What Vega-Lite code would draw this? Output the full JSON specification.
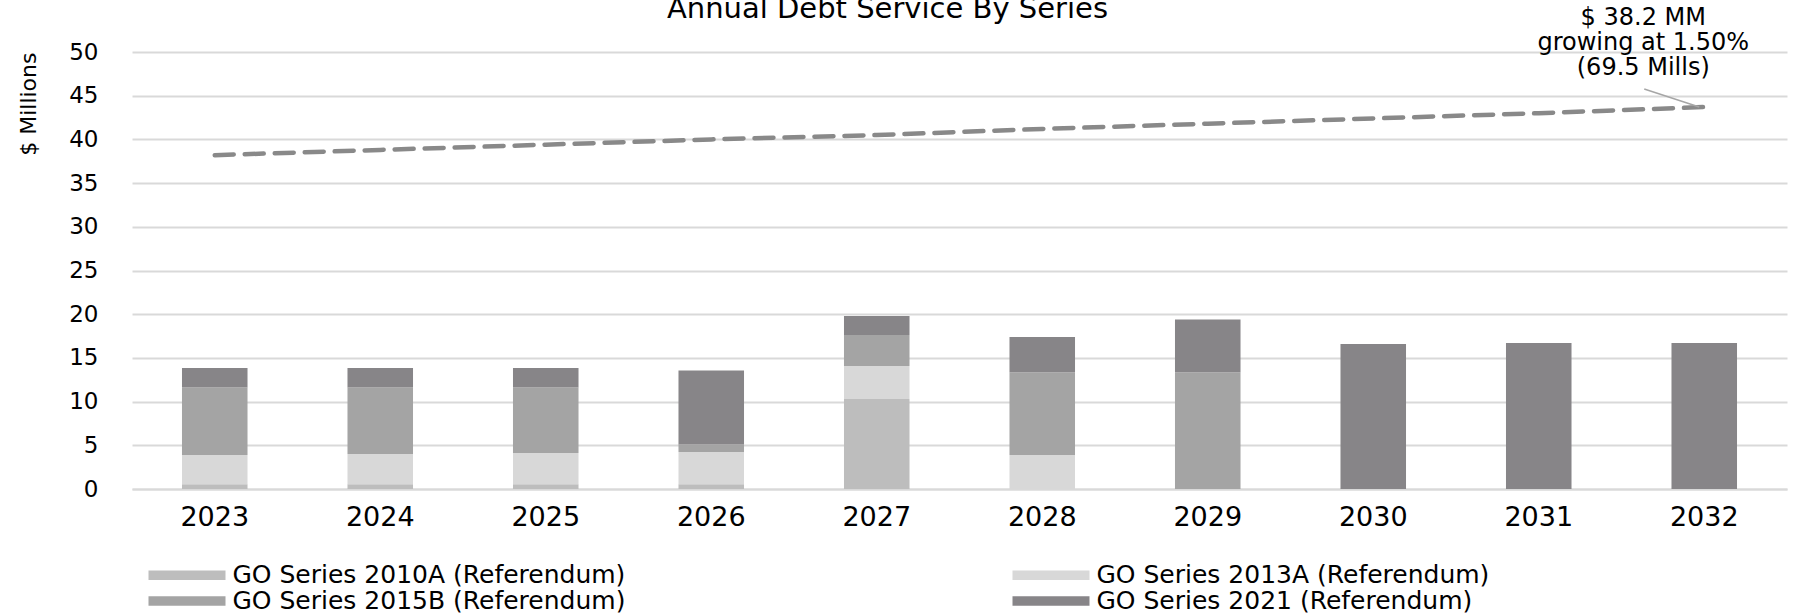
{
  "$schema": "https://vega.github.io/schema/vega-lite/v6.json",
  "width": 1655,
  "height": 437,
  "autosize": {"type": "none"},
  "padding": {"left": 132, "top": 52, "right": 17, "bottom": 125},
  "background": "white",
  "config": {
    "font": "DejaVu Sans",
    "view": {"stroke": null},
    "axis": {"labelColor": "#000000", "titleColor": "#000000", "titleFontWeight": "normal"}
  },
  "title": {
    "text": "Annual Debt Service By Series",
    "fontSize": 29,
    "fontWeight": "normal",
    "color": "#000000",
    "anchor": "middle",
    "frame": "group",
    "baseline": "alphabetic",
    "offset": 0,
    "dy": 41,
    "dx": -72
  },
  "datasets": {
    "bars": [
      {"year": "2023", "series": "GO Series 2010A (Referendum)", "ord": 1, "value": 0.54},
      {"year": "2023", "series": "GO Series 2013A (Referendum)", "ord": 2, "value": 3.35},
      {"year": "2023", "series": "GO Series 2015B (Referendum)", "ord": 3, "value": 7.71},
      {"year": "2023", "series": "GO Series 2021 (Referendum)", "ord": 4, "value": 2.24},
      {"year": "2024", "series": "GO Series 2010A (Referendum)", "ord": 1, "value": 0.54},
      {"year": "2024", "series": "GO Series 2013A (Referendum)", "ord": 2, "value": 3.46},
      {"year": "2024", "series": "GO Series 2015B (Referendum)", "ord": 3, "value": 7.6},
      {"year": "2024", "series": "GO Series 2021 (Referendum)", "ord": 4, "value": 2.24},
      {"year": "2025", "series": "GO Series 2010A (Referendum)", "ord": 1, "value": 0.54},
      {"year": "2025", "series": "GO Series 2013A (Referendum)", "ord": 2, "value": 3.58},
      {"year": "2025", "series": "GO Series 2015B (Referendum)", "ord": 3, "value": 7.48},
      {"year": "2025", "series": "GO Series 2021 (Referendum)", "ord": 4, "value": 2.24},
      {"year": "2026", "series": "GO Series 2010A (Referendum)", "ord": 1, "value": 0.54},
      {"year": "2026", "series": "GO Series 2013A (Referendum)", "ord": 2, "value": 3.69},
      {"year": "2026", "series": "GO Series 2015B (Referendum)", "ord": 3, "value": 0.87},
      {"year": "2026", "series": "GO Series 2021 (Referendum)", "ord": 4, "value": 8.45},
      {"year": "2027", "series": "GO Series 2010A (Referendum)", "ord": 1, "value": 10.3},
      {"year": "2027", "series": "GO Series 2013A (Referendum)", "ord": 2, "value": 3.78},
      {"year": "2027", "series": "GO Series 2015B (Referendum)", "ord": 3, "value": 3.55},
      {"year": "2027", "series": "GO Series 2021 (Referendum)", "ord": 4, "value": 2.17},
      {"year": "2028", "series": "GO Series 2013A (Referendum)", "ord": 2, "value": 3.88},
      {"year": "2028", "series": "GO Series 2015B (Referendum)", "ord": 3, "value": 9.48},
      {"year": "2028", "series": "GO Series 2021 (Referendum)", "ord": 4, "value": 4.04},
      {"year": "2029", "series": "GO Series 2015B (Referendum)", "ord": 3, "value": 13.36},
      {"year": "2029", "series": "GO Series 2021 (Referendum)", "ord": 4, "value": 6.03},
      {"year": "2030", "series": "GO Series 2021 (Referendum)", "ord": 4, "value": 16.59},
      {"year": "2031", "series": "GO Series 2021 (Referendum)", "ord": 4, "value": 16.7},
      {"year": "2032", "series": "GO Series 2021 (Referendum)", "ord": 4, "value": 16.7}
    ],
    "trend": [
      {"year": "2023", "value": 38.2},
      {"year": "2024", "value": 38.8},
      {"year": "2025", "value": 39.4},
      {"year": "2026", "value": 40.0},
      {"year": "2027", "value": 40.5},
      {"year": "2028", "value": 41.2},
      {"year": "2029", "value": 41.8},
      {"year": "2030", "value": 42.4},
      {"year": "2031", "value": 43.0},
      {"year": "2032", "value": 43.7}
    ],
    "note": [
      {"year": "2032", "value": 55.3, "from": 45.77, "to": 43.7, "label": ["$ 38.2 MM", "growing at 1.50%", "(69.5 Mills)"]}
    ]
  },
  "encoding": {
    "x": {
      "field": "year",
      "type": "ordinal",
      "title": null,
      "scale": {"paddingInner": 0.604, "paddingOuter": 0.302},
      "axis": {
        "labelAngle": 0,
        "labelFontSize": 27,
        "labelPadding": 15,
        "ticks": false,
        "tickSize": 0,
        "domainColor": "#d9d9d9",
        "domainWidth": 2,
        "grid": false
      }
    }
  },
  "layer": [
    {
      "data": {"name": "bars"},
      "mark": {"type": "bar"},
      "encoding": {
        "y": {
          "field": "value",
          "type": "quantitative",
          "stack": "zero",
          "title": "$ Millions",
          "scale": {"domain": [0, 50], "nice": false},
          "axis": {
            "values": [0, 5, 10, 15, 20, 25, 30, 35, 40, 45, 50],
            "labelFontSize": 23,
            "labelPadding": 34,
            "ticks": false,
            "tickSize": 0,
            "domain": false,
            "gridColor": "#d9d9d9",
            "gridWidth": 2,
            "titleFontSize": 22,
            "titleAngle": -90,
            "titleX": -104,
            "titleY": 0,
            "titleAlign": "right",
            "titleBaseline": "middle"
          }
        },
        "color": {
          "field": "series",
          "type": "nominal",
          "scale": {
            "domain": ["GO Series 2010A (Referendum)", "GO Series 2013A (Referendum)", "GO Series 2015B (Referendum)", "GO Series 2021 (Referendum)"],
            "range": ["#bdbdbd", "#d8d8d8", "#a4a4a4", "#878588"]
          },
          "legend": {
            "title": null,
            "orient": "none",
            "legendX": 42.5,
            "legendY": 510.5,
            "direction": "horizontal",
            "columns": 2,
            "columnPadding": 387,
            "rowPadding": 0,
            "padding": 0,
            "symbolType": "M-7.7,-0.95H7.7V0.95H-7.7Z",
            "symbolSize": 100,
            "symbolStrokeWidth": 0,
            "labelFontSize": 25,
            "labelColor": "#000000",
            "labelOffset": 33,
            "labelLimit": 600
          }
        },
        "order": {"field": "ord", "type": "quantitative", "sort": "ascending"}
      }
    },
    {
      "data": {"name": "trend"},
      "mark": {"type": "line", "color": "#898989", "strokeWidth": 4.5, "strokeDash": [19, 11], "strokeCap": "round"},
      "encoding": {
        "y": {"field": "value", "type": "quantitative"}
      }
    },
    {
      "data": {"name": "note"},
      "mark": {"type": "rule", "color": "#a6a6a6", "strokeWidth": 1.5, "xOffset": -60, "x2Offset": -5},
      "encoding": {
        "x2": {"field": "year"},
        "y": {"field": "from", "type": "quantitative"},
        "y2": {"field": "to"}
      }
    },
    {
      "data": {"name": "note"},
      "mark": {"type": "text", "fontSize": 24, "lineHeight": 25, "baseline": "top", "align": "center", "dx": -61, "color": "#000000"},
      "encoding": {
        "y": {"field": "value", "type": "quantitative"},
        "text": {"field": "label"}
      }
    }
  ]
}
